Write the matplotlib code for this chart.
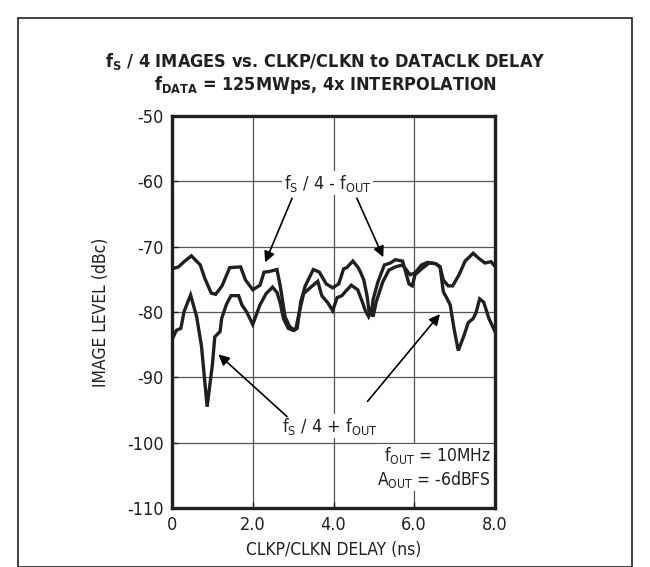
import matplotlib
matplotlib.use("Agg")
import matplotlib.pyplot as plt
from matplotlib.patches import Rectangle

plt.rcParams['font.family'] = ['Liberation Sans Narrow', 'DejaVu Sans']
plt.rcParams['font.stretch'] = 'condensed'
plt.rcParams['mathtext.default'] = 'regular'
plt.rcParams['axes.unicode_minus'] = False

# fS/4 - fOUT image (upper trace)
minus_x = [0, 0.16, 0.3, 0.48, 0.7, 0.81, 0.97, 1.08, 1.24, 1.43, 1.7, 1.82, 2.0, 2.18,
           2.28, 2.41, 2.6, 2.68, 2.8, 2.91, 3.03, 3.1, 3.19, 3.3, 3.5, 3.65, 3.82, 3.98,
           4.13, 4.25, 4.33, 4.48, 4.6, 4.67, 4.75, 4.83, 4.88, 4.95, 4.98, 5.1, 5.26,
           5.41, 5.53, 5.71, 5.87, 5.95, 6.02, 6.18, 6.37, 6.53, 6.64, 6.72, 6.84, 6.95,
           7.11, 7.26, 7.46, 7.6, 7.75, 7.9, 8.0]
minus_y = [-73.4, -73.1, -72.3, -71.4, -72.8, -74.8, -77.1, -77.3, -76.0, -73.2, -73.1,
           -75.1, -76.6, -75.9, -73.9, -73.8, -73.5, -76.0, -80.7, -82.2, -82.8, -82.5,
           -78.4, -76.0, -73.5, -73.9, -75.7, -76.3, -75.7, -73.4, -73.2, -72.2, -73.1,
           -73.9, -75.1, -77.5, -79.8, -79.8, -78.1, -75.4, -72.8, -72.5, -72.0, -72.2,
           -75.7, -76.0, -74.3, -73.4, -72.5, -72.6, -73.1, -75.1, -76.0, -76.0, -74.3,
           -72.2, -71.0, -71.8, -72.5, -72.3, -73.0]

# fS/4 + fOUT image (lower trace)
plus_x = [0, 0.11, 0.22, 0.3, 0.46, 0.61, 0.73, 0.87, 1.0, 1.06, 1.19, 1.23, 1.35, 1.46,
          1.65, 1.73, 1.85, 2.0, 2.18, 2.33, 2.49, 2.6, 2.68, 2.76, 2.88, 2.99, 3.07,
          3.15, 3.26, 3.42, 3.61, 3.71, 3.86, 3.98, 4.09, 4.21, 4.29, 4.44, 4.6, 4.71,
          4.79, 4.87, 4.93, 4.98, 5.06, 5.22, 5.37, 5.53, 5.71, 5.9, 6.02, 6.18, 6.33,
          6.53, 6.64, 6.72, 6.8, 6.89, 6.99, 7.09, 7.22, 7.34, 7.46, 7.53, 7.62, 7.72,
          7.85, 8.0]
plus_y = [-84.2, -82.8, -82.5, -79.9, -77.4, -80.7, -85.2, -94.5, -88.1, -83.8, -83.0,
          -81.0, -78.8, -77.5, -77.5, -78.9, -80.0, -81.9, -78.9, -77.2, -76.2, -77.0,
          -78.6, -81.0, -82.5, -82.8, -82.5, -80.1, -77.2, -76.3, -75.3, -77.5, -78.6,
          -79.8, -77.8, -77.5, -76.9, -75.9, -76.6, -78.4, -79.8, -80.7, -79.8, -80.7,
          -78.4, -75.4, -73.6, -73.1, -72.8, -74.3, -74.0, -72.8, -72.4, -72.6, -73.1,
          -76.9, -77.8, -78.9, -82.7, -85.9, -83.8, -81.6, -81.0, -80.1, -78.0, -78.5,
          -81.0, -83.0]

x_ticks = [0, 2, 4, 6, 8]
x_ticklabels = ["0", "2.0", "4.0", "6.0", "8.0"]
y_ticks = [-50, -60, -70, -80, -90, -100, -110]

ink = "#231f20"

fig = plt.figure(figsize=(6.5, 5.67), dpi=100)

# outer frame
fig.patches.append(Rectangle((18 / 650, 0.0), 614 / 650, 1 - 18 / 567,
                             transform=fig.transFigure, fill=False,
                             edgecolor=ink, linewidth=1.2))

ax = fig.add_axes([172 / 650, 1 - 508 / 567, 323 / 650, 392 / 567])
ax.plot(minus_x, minus_y, color=ink, lw=2.4, solid_joinstyle='miter', zorder=3)
ax.plot(plus_x, plus_y, color=ink, lw=2.4, solid_joinstyle='miter', zorder=3)

ax.set_xlim(0, 8)
ax.set_ylim(-110, -50)
ax.set_xticks(x_ticks)
ax.set_xticklabels(x_ticklabels)
ax.set_yticks(y_ticks)
ax.grid(True, color="#555555", lw=0.9)
ax.tick_params(direction='in', length=4, width=1, labelsize=13, colors=ink, pad=6)
for sp in ax.spines.values():
    sp.set_linewidth(2.4)
    sp.set_color(ink)

ax.set_xlabel("CLKP/CLKN DELAY (ns)", fontsize=12.5, color=ink, labelpad=5)
ax.set_ylabel("IMAGE LEVEL (dBc)", fontsize=12.5, color=ink, labelpad=12)

fig.text(0.5, 1 - 62 / 567, "f$_S$ / 4 IMAGES vs. CLKP/CLKN to DATACLK DELAY",
         ha='center', va='center', fontsize=13, fontweight='bold', color=ink)
fig.text(0.5, 1 - 85 / 567, "f$_{DATA}$ = 125MWps, 4x INTERPOLATION",
         ha='center', va='center', fontsize=13, fontweight='bold', color=ink)

# trace labels with arrows
ax.text(3.85, -60.3, "f$_S$ / 4 - f$_{OUT}$", ha='center', va='center', fontsize=13,
        color=ink, bbox=dict(facecolor='white', edgecolor='none', pad=1))
arrow = dict(arrowstyle='-|>', color='black', lw=1.2, mutation_scale=16)
ax.annotate("", xy=(2.28, -72.8), xytext=(3.0, -62.2), arrowprops=arrow)
ax.annotate("", xy=(5.26, -72.0), xytext=(4.55, -62.2), arrowprops=arrow)

ax.text(3.9, -97.5, "f$_S$ / 4 + f$_{OUT}$", ha='center', va='center', fontsize=13,
        color=ink, bbox=dict(facecolor='white', edgecolor='none', pad=1))
ax.annotate("", xy=(1.1, -86.2), xytext=(2.9, -96.3), arrowprops=arrow)
ax.annotate("", xy=(6.68, -80.0), xytext=(4.8, -94.0), arrowprops=arrow)

ax.text(7.9, -103.8, "f$_{OUT}$ = 10MHz\nA$_{OUT}$ = -6dBFS", ha='right', va='center',
        fontsize=12.5, color=ink, linespacing=1.15,
        bbox=dict(facecolor='white', edgecolor='none', pad=1))

fig.savefig("out.png", dpi=100)
